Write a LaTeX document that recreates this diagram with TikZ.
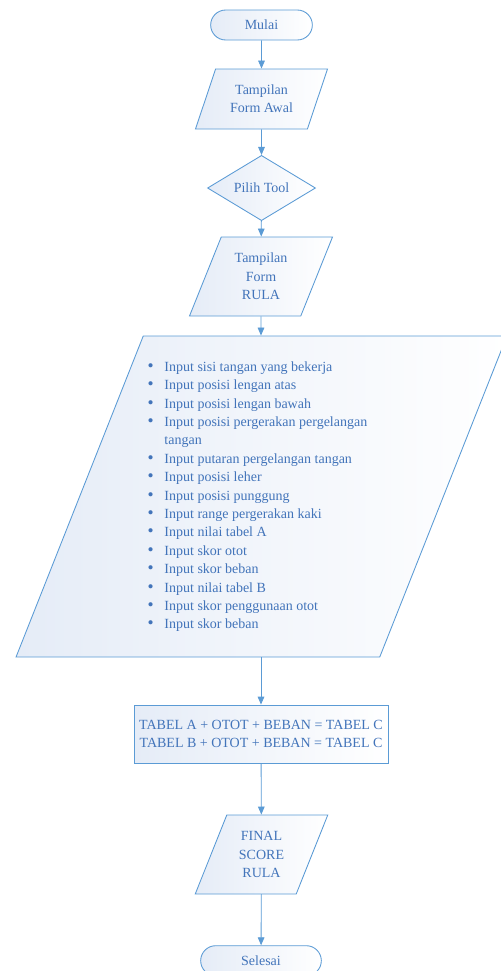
\documentclass[tikz,border=0pt]{standalone}
\usepackage{fontspec}
\setmainfont{Liberation Serif}
\usetikzlibrary{arrows.meta,positioning,shapes.geometric,shapes.misc}
\definecolor{sky}{RGB}{91,155,213}
\definecolor{denim}{RGB}{66,116,186}
\definecolor{mist}{RGB}{229,236,247}
\newcommand{\listdot}{{\fontsize{13}{13}\selectfont\textbullet}}
\tikzset{
  >={Triangle[length=6pt,width=5pt]},
  shape base/.style={draw=sky,line width=0.65pt,left color=mist,right color=white,
    text=denim,align=center,inner sep=2pt,font=\fontsize{10.5}{13.8}\selectfont},
  term/.style={shape base,rounded rectangle,minimum height=22.5pt},
  io/.style={shape base,trapezium,trapezium left angle=66,trapezium right angle=114,
    trapezium stretches=true},
  pick/.style={shape base,diamond,inner sep=0pt},
  proc/.style={shape base,rectangle},
  flow/.style={->,draw=sky,line width=0.65pt},
}
\begin{document}
\begin{tikzpicture}[x=0.75pt,y=-0.75pt]
  \useasboundingbox (0,0) rectangle (500,971);
  \node[term,minimum width=80.25pt] (mulai) at (261.5,25) {Mulai};
  \node[io,minimum width=99.75pt,minimum height=45pt] (awal) at (261.5,99) {Tampilan\\Form Awal};
  \node[pick,minimum width=81pt,minimum height=45pt] (pilih) at (261.5,188) {Pilih Tool};
  \node[io,minimum width=108pt,minimum height=59.25pt] (rula) at (261,276.5) {Tampilan\\Form\\RULA};
  \node[io,minimum width=369.75pt,minimum height=240.75pt] (input) at (261.5,496.5) {%
    \begin{tabular}{@{}l@{\hspace{8pt}}l@{\hspace{6pt}}}
      \listdot & Input sisi tangan yang bekerja\\
      \listdot & Input posisi lengan atas\\
      \listdot & Input posisi lengan bawah\\
      \listdot & Input posisi pergerakan pergelangan\\
               & tangan\\
      \listdot & Input putaran pergelangan tangan\\
      \listdot & Input posisi leher\\
      \listdot & Input posisi punggung\\
      \listdot & Input range pergerakan kaki\\
      \listdot & Input nilai tabel A\\
      \listdot & Input skor otot\\
      \listdot & Input skor beban\\
      \listdot & Input nilai tabel B\\
      \listdot & Input skor penggunaan otot\\
      \listdot & Input skor beban
    \end{tabular}};
  \node[proc,minimum width=190.5pt,minimum height=43.5pt] (tabel) at (261,734)
    {TABEL A + OTOT + BEBAN = TABEL C\\TABEL B + OTOT + BEBAN = TABEL C};
  \node[io,minimum width=99.75pt,minimum height=59.25pt] (final) at (261.5,854.5) {FINAL\\SCORE\\RULA};
  \node[term,minimum width=94.5pt] (selesai) at (261,960.7) {Selesai};

  \draw[flow] (mulai) -- (awal);
  \draw[flow] (awal) -- (pilih);
  \draw[flow] (pilih) -- (rula);
  \draw[flow] (rula) -- (input.north -| rula);
  \draw[flow] (input.south -| tabel) -- (tabel);
  \draw[flow] (tabel) -- (final);
  \draw[flow] (final) -- (selesai);
\end{tikzpicture}
\end{document}
